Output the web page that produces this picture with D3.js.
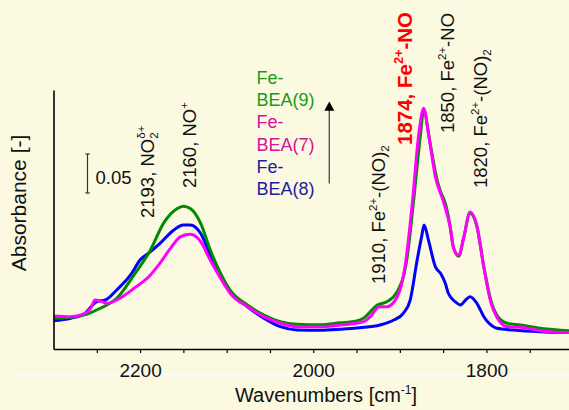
<!DOCTYPE html>
<html>
<head>
<meta charset="utf-8">
<script src="https://cdn.jsdelivr.net/npm/d3@7"></script>
<style>
  html, body { margin: 0; padding: 0; background: #fcf9e1; }
  svg { display: block; font-family: "Liberation Sans", Arial, sans-serif; }
</style>
</head>
<body>
<svg id="chart" width="569" height="410"></svg>
<script>
// IR spectra of NO adsorbed on Fe-BEA samples: [wavenumber cm^-1, absorbance]
const bea9 = [[2300,0.0394],[2280,0.0406],[2261,0.0449],[2246,0.0522],[2227,0.065],[2207,0.0949],[2188,0.127],[2173,0.161],[2157,0.180],[2150,0.183],[2142,0.180],[2130,0.161],[2119,0.127],[2107,0.097],[2096,0.0756],[2076,0.0564],[2057,0.0436],[2038,0.035],[2019,0.0317],[1992,0.031],[1969,0.0335],[1950,0.036],[1942,0.0394],[1926,0.0564],[1915,0.0606],[1903,0.0735],[1892,0.114],[1884,0.191],[1876,0.2765],[1872.5,0.3064],[1865,0.2637],[1857,0.2167],[1853,0.202],[1847,0.185],[1842,0.158],[1838,0.13],[1832,0.119],[1826,0.144],[1819,0.174],[1811,0.157],[1803,0.1055],[1795,0.0628],[1788,0.0436],[1776,0.033],[1761,0.0308],[1738,0.0265],[1705,0.0235],[1700,0.023]];

const bea7 = [[2300,0.0423],[2280,0.0414],[2265,0.0449],[2257,0.0522],[2252,0.0628],[2246,0.0615],[2238,0.0586],[2227,0.0628],[2207,0.0778],[2188,0.0949],[2177,0.110],[2165,0.129],[2153,0.144],[2142,0.147],[2130,0.1376],[2119,0.114],[2107,0.0906],[2096,0.0714],[2076,0.0542],[2057,0.0414],[2038,0.033],[2019,0.0286],[1992,0.0286],[1969,0.0308],[1942,0.035],[1934,0.0414],[1924,0.0542],[1915,0.0542],[1903,0.067],[1894,0.1055],[1886,0.1824],[1878,0.2765],[1872.5,0.3086],[1867,0.2765],[1859,0.221],[1850,0.19],[1842,0.157],[1838,0.1295],[1832,0.12],[1826,0.1436],[1819,0.1756],[1811,0.158],[1803,0.105],[1795,0.060],[1788,0.041],[1776,0.0286],[1761,0.028],[1738,0.0235],[1705,0.021],[1700,0.021]];

const bea8 = [[2300,0.0363],[2280,0.0394],[2265,0.0445],[2250,0.0606],[2240,0.0628],[2227,0.0756],[2211,0.0949],[2200,0.114],[2188,0.1247],[2177,0.1355],[2161,0.1526],[2150,0.159],[2142,0.159],[2130,0.148],[2119,0.1205],[2107,0.0927],[2096,0.0735],[2076,0.0542],[2057,0.0394],[2038,0.0286],[2019,0.0244],[1992,0.024],[1969,0.0253],[1946,0.0273],[1923,0.0308],[1907,0.0372],[1896,0.0458],[1888,0.0628],[1880,0.114],[1874.5,0.146],[1872,0.159],[1867,0.140],[1859,0.1055],[1853,0.097],[1847.5,0.0842],[1844,0.0714],[1836,0.0606],[1830,0.0564],[1824,0.0628],[1819,0.067],[1811,0.0586],[1803,0.0414],[1795,0.0308],[1788,0.0265],[1769,0.0244],[1738,0.0222],[1705,0.021],[1700,0.021]];

// drawing order (back to front) and line colours
const drawOrder = [bea8, bea9, bea7];
const lineColors = ["#0000ff", "#008a00", "#ff00ff"];
// legend, top to bottom
const legendNames = ["Fe-BEA(9)", "Fe-BEA(7)", "Fe-BEA(8)"];
const legendColors = ["#179b17", "#d3139e", "#1d1d9c"];
const xTicks = [2250, 2200, 2150, 2100, 2050, 2000, 1950, 1900, 1850, 1800, 1750];
const xLabels = [2200, 2000, 1800];
const scaleBar = [0.20, 0.25];

const svg = d3.select("#chart");
svg.append("rect").attr("width", 569).attr("height", 410).attr("fill", "#fcf9e1");

const x = d3.scaleLinear().domain([2300, 1700]).range([53.5, 573]);
const y = d3.scaleLinear().domain([0, 0.332]).range([349, 90]);

// faint rule under the tick labels
svg.append("line").attr("x1", 13).attr("x2", 569).attr("y1", 374.5).attr("y2", 374.5)
  .attr("stroke", "#ffffff").attr("stroke-width", 1.2);

// spectra
const line = d3.line().x(d => x(d[0])).y(d => y(d[1])).curve(d3.curveMonotoneX);
drawOrder.forEach((s, i) => {
  svg.append("path").datum(s).attr("d", line)
    .attr("fill", "none").attr("stroke", lineColors[i])
    .attr("stroke-width", 3).attr("stroke-linejoin", "round");
});

// axes
const xAxis = d3.axisBottom(x).tickValues(xTicks).tickSize(4).tickSizeOuter(0).tickPadding(11)
  .tickFormat(d => xLabels.includes(d) ? d : "");
const gx = svg.append("g").attr("transform", "translate(0,349)").call(xAxis);
gx.select(".domain").attr("stroke", "#000").attr("stroke-width", 1.6);
gx.selectAll(".tick line").attr("stroke", "#000").attr("stroke-width", 1.2);
gx.selectAll(".tick text").attr("fill", "#111").attr("font-size", 19)
  .attr("font-family", "'Liberation Sans', Arial, sans-serif");

const yAxis = d3.axisLeft(y).tickValues([]).tickSizeOuter(0);
const gy = svg.append("g").attr("transform", "translate(53.5,0)").call(yAxis);
gy.select(".domain").attr("stroke", "#000").attr("stroke-width", 1.6);

// axis titles
const xt = svg.append("text").attr("x", 326).attr("y", 402).attr("text-anchor", "middle")
  .attr("font-size", 20).attr("fill", "#111");
xt.append("tspan").text("Wavenumbers [cm");
xt.append("tspan").attr("dy", -8).attr("font-size", 12).text("-1");
xt.append("tspan").attr("dy", 8).text("]");

svg.append("text").attr("transform", "translate(26,203) rotate(-90)")
  .attr("text-anchor", "middle").attr("font-size", 21).attr("fill", "#111")
  .text("Absorbance [-]");

// absorbance scale bar
const sb = svg.append("g").attr("stroke", "#333").attr("stroke-width", 1.2);
sb.append("line").attr("x1", 87.5).attr("x2", 87.5).attr("y1", y(scaleBar[0])).attr("y2", y(scaleBar[1]));
sb.append("line").attr("x1", 85.3).attr("x2", 89.7).attr("y1", y(scaleBar[0])).attr("y2", y(scaleBar[0]));
sb.append("line").attr("x1", 85.3).attr("x2", 89.7).attr("y1", y(scaleBar[1])).attr("y2", y(scaleBar[1]));
svg.append("text").attr("x", 95.5).attr("y", 183.5).attr("font-size", 18.5).attr("fill", "#111")
  .text((scaleBar[1] - scaleBar[0]).toFixed(2));

// legend: each name wrapped after the hyphen
legendNames.forEach((n, i) => {
  const cut = n.indexOf("-") + 1;
  [n.slice(0, cut), n.slice(cut)].forEach((row, j) => {
    svg.append("text").attr("x", 256.5).attr("y", 84 + (i * 2 + j) * 22.2)
      .attr("font-size", 18).attr("fill", legendColors[i]).text(row);
  });
});

// arrow
svg.append("line").attr("x1", 329.3).attr("x2", 329.3).attr("y1", 183.5).attr("y2", 109)
  .attr("stroke", "#555").attr("stroke-width", 1.4);
svg.append("path").attr("d", "M329.3,101.5 L334.3,110.8 L324.3,110.8 Z").attr("fill", "#000");

// band assignments
const bands = [
  { x: 154, y: 218, parts: [["2193, NO"], ["2", "sub"], ["δ+", "supAbove"]] },
  { x: 196, y: 188, parts: [["2160, NO"], ["+", "sup"]] },
  { x: 384.5, y: 284, parts: [["1910, Fe"], ["2+", "sup"], ["-(NO)"], ["2", "sub"]] },
  { x: 411.5, y: 145, bold: true, color: "#ff0000", size: 20.5, parts: [["1874, Fe"], ["2+", "sup"], ["-NO"]] },
  { x: 453.5, y: 133, parts: [["1850, Fe"], ["2+", "sup"], ["-NO"]] },
  { x: 486.5, y: 188, parts: [["1820, Fe"], ["2+", "sup"], ["-(NO)"], ["2", "sub"]] }
];
bands.forEach(b => {
  const fs = b.size || 18.5;
  const t = svg.append("text").attr("transform", `translate(${b.x},${b.y}) rotate(-90)`)
    .attr("font-size", fs).attr("fill", b.color || "#111")
    .attr("font-weight", b.bold ? "bold" : "normal");
  let shift = 0;
  b.parts.forEach(p => {
    const sp = t.append("tspan").text(p[0]);
    let target = 0;
    if (p[1] === "sup") { target = -0.42 * fs; sp.attr("font-size", fs * 0.62); }
    else if (p[1] === "sub") { target = 0.22 * fs; sp.attr("font-size", fs * 0.62); }
    else if (p[1] === "supAbove") { target = -0.5 * fs; sp.attr("font-size", fs * 0.62).attr("dx", -fs * 0.34); }
    sp.attr("dy", target - shift);
    shift = target;
  });
});
</script>
</body>
</html>
